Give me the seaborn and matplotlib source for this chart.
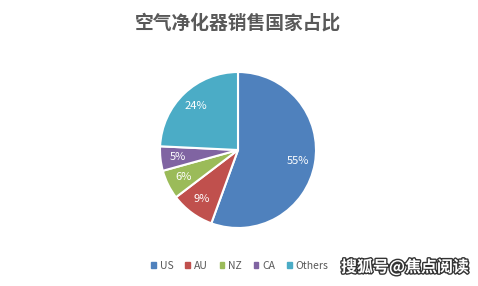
import matplotlib
matplotlib.use("Agg")
import matplotlib.pyplot as plt
import matplotlib.patheffects as pe
import seaborn as sns

categories = ["US", "AU", "NZ", "CA", "Others"]
shares = [55, 9, 6, 5, 24]
title = "空气净化器销售国家占比"
watermark = "搜狐号@焦点阅读"

sns.set_theme(style="white")
plt.rcParams['font.family'] = ['Noto Sans CJK SC', 'DejaVu Sans']
colors = ["#4F81BD", "#C0504D", "#9BBB59", "#8064A2", "#4BACC6"]

W, H = 478, 286
fig = plt.figure(figsize=(W / 100, H / 100), dpi=100)
fig.patch.set_facecolor("white")

cx, cy, r = 238, 150, 78
ax = fig.add_axes([(cx - r) / W, (H - cy - r) / H, 2 * r / W, 2 * r / H])
labels = [f"{v}%" for v in shares]
wedges, texts = ax.pie(shares, colors=colors, startangle=90, counterclock=False,
                       labels=labels, labeldistance=0.78,
                       wedgeprops=dict(edgecolor="white", linewidth=1.5))
for t in texts:
    t.set_color("white")
    t.set_fontsize(8)
    t.set_ha("center")
    t.set_va("center")
ax.set_xlim(-1, 1)
ax.set_ylim(-1, 1)
ax.set_aspect("equal")
ax.axis("off")

fig.text(cx / W, 1 - 23 / H, title, ha="center", va="center", fontsize=13.5,
         fontweight="bold", color="#595959")

handles = [plt.Rectangle((0, 0), 1, 1, color=c) for c in colors]
leg = fig.legend(handles, categories, loc="center", bbox_to_anchor=(240 / W, 1 - 266 / H),
                 ncol=5, frameon=False, fontsize=7.5, handlelength=0.45, handleheight=0.45,
                 handletextpad=0.4, columnspacing=1.1)
for t in leg.get_texts():
    t.set_color("#595959")

fig.text(405 / W, 1 - 267 / H, watermark, ha="center", va="center", fontsize=11.5,
         color="white", fontweight="bold",
         path_effects=[pe.withStroke(linewidth=2, foreground="#333333")])

fig.savefig("out.png", dpi=100, facecolor="white")
